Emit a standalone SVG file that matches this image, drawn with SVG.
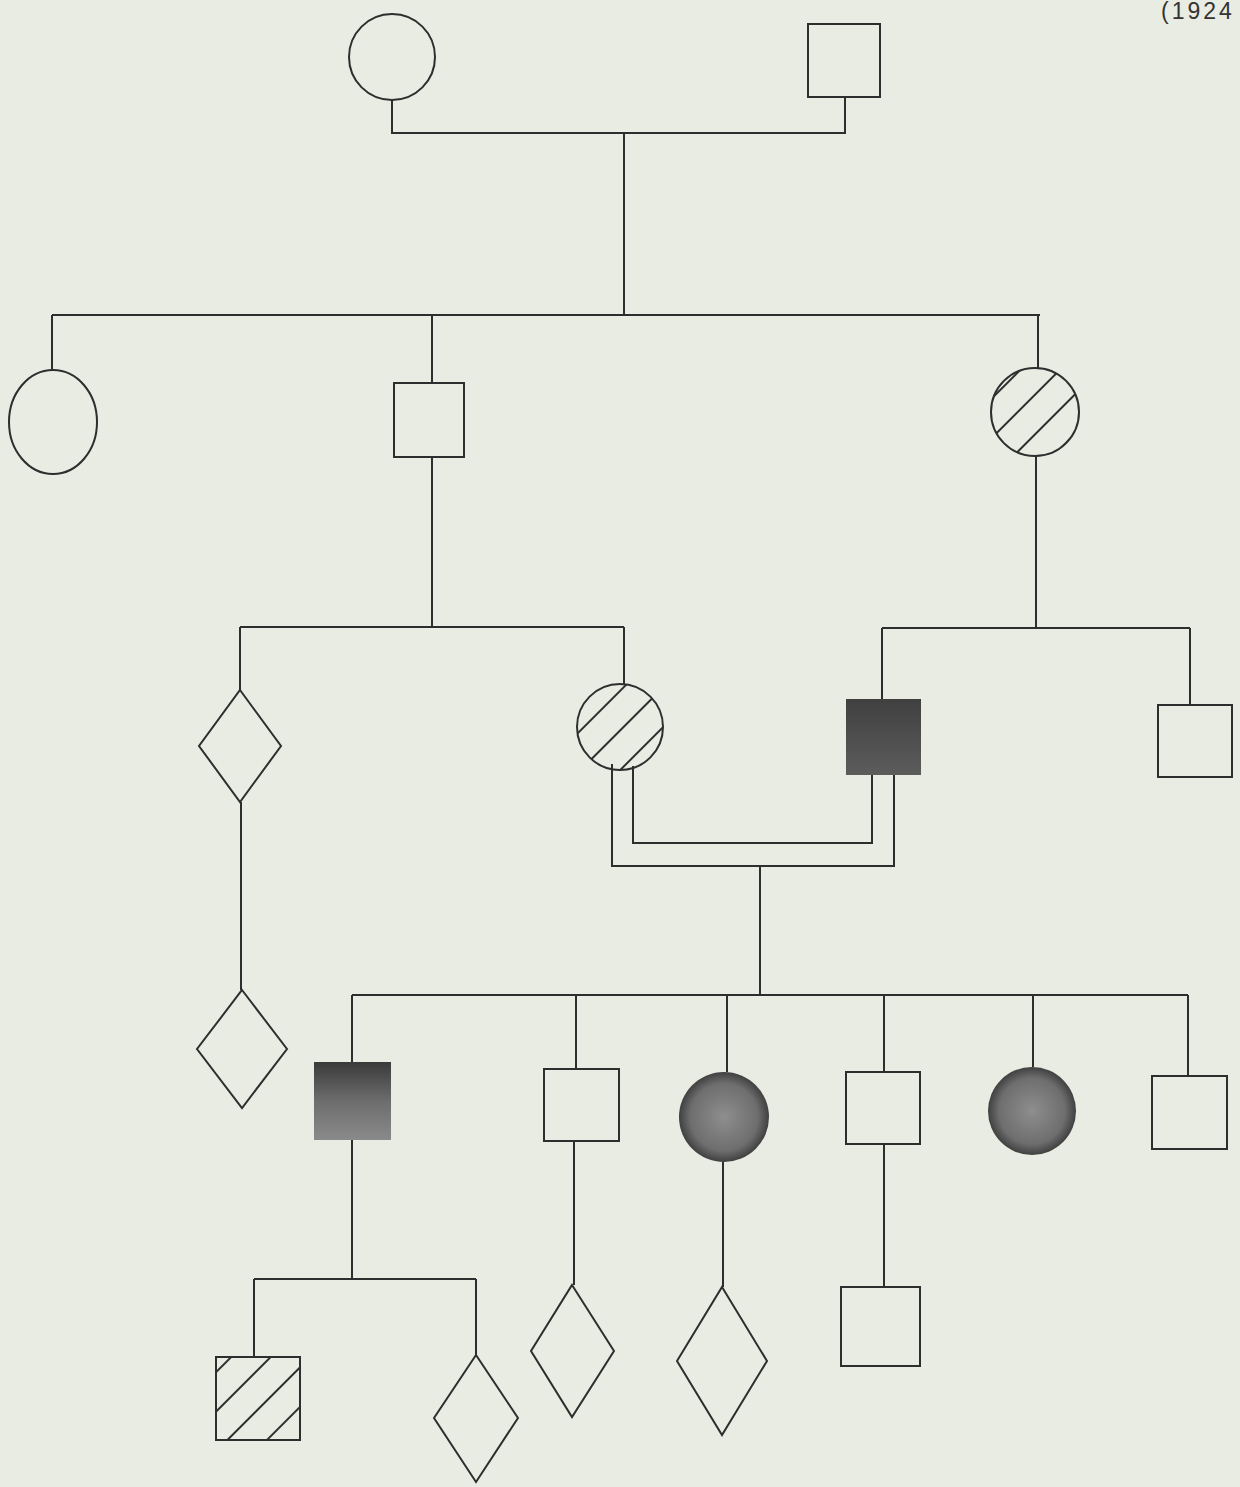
<svg xmlns="http://www.w3.org/2000/svg" width="1240" height="1487" viewBox="0 0 1240 1487">
<defs>
<style>
.s{fill:none;stroke:#2e2e2e;stroke-width:2}
.n{fill:none;stroke:#2e2e2e;stroke-width:2}
.h{fill:url(#hatch);stroke:#2e2e2e;stroke-width:2}
.t{font-family:"Liberation Sans",Arial,sans-serif;font-size:23px;letter-spacing:3px;fill:#333}
</style>
<pattern id="hatch" width="28" height="28" patternUnits="userSpaceOnUse" patternTransform="rotate(45)">
<line x1="3" y1="0" x2="3" y2="28" stroke="#2e2e2e" stroke-width="2"/>
</pattern>
<linearGradient id="fsq1" x1="0" y1="0" x2="0" y2="1">
<stop offset="0" stop-color="#404040"/><stop offset="1" stop-color="#5c5c5c"/>
</linearGradient>
<linearGradient id="fsq2" x1="0" y1="0" x2="0" y2="1">
<stop offset="0" stop-color="#3a3a3a"/><stop offset="0.5" stop-color="#6d6d6d"/><stop offset="1" stop-color="#8a8a8a"/>
</linearGradient>
<radialGradient id="fci" cx="0.5" cy="0.5" r="0.5">
<stop offset="0" stop-color="#8e8e8e"/><stop offset="0.75" stop-color="#6e6e6e"/><stop offset="1" stop-color="#404040"/>
</radialGradient>
</defs>
<rect width="1240" height="1487" fill="#e9ece3"/>
<text class="t" x="1161" y="19">(1924</text>

<g id="connectors" class="n">
<polyline points="392,100 392,133 845,133 845,97"/>
<line x1="624" y1="133" x2="624" y2="315"/>
<line x1="52" y1="315" x2="1040" y2="315"/>
<line x1="52" y1="315" x2="52" y2="370"/>
<line x1="432" y1="315" x2="432" y2="383"/>
<line x1="1038" y1="315" x2="1038" y2="368"/>
<line x1="432" y1="457" x2="432" y2="627"/>
<line x1="240" y1="627" x2="624" y2="627"/>
<line x1="240" y1="627" x2="240" y2="690"/>
<line x1="624" y1="627" x2="624" y2="685"/>
<line x1="241" y1="802" x2="241" y2="990"/>
<line x1="1036" y1="455" x2="1036" y2="628"/>
<line x1="882" y1="628" x2="1190" y2="628"/>
<line x1="882" y1="628" x2="882" y2="699"/>
<line x1="1190" y1="628" x2="1190" y2="705"/>
<polyline points="633,766 633,843 872,843 872,775"/>
<polyline points="612,764 612,866 894,866 894,775"/>
<line x1="760" y1="866" x2="760" y2="995"/>
<line x1="352" y1="995" x2="1188" y2="995"/>
<line x1="352" y1="995" x2="352" y2="1062"/>
<line x1="576" y1="995" x2="576" y2="1069"/>
<line x1="727" y1="995" x2="727" y2="1072"/>
<line x1="884" y1="995" x2="884" y2="1072"/>
<line x1="1033" y1="995" x2="1033" y2="1067"/>
<line x1="1188" y1="995" x2="1188" y2="1076"/>
<line x1="352" y1="1140" x2="352" y2="1279"/>
<line x1="254" y1="1279" x2="476" y2="1279"/>
<line x1="254" y1="1279" x2="254" y2="1357"/>
<line x1="476" y1="1279" x2="476" y2="1355"/>
<line x1="574" y1="1141" x2="574" y2="1285"/>
<line x1="723" y1="1162" x2="723" y2="1287"/>
<line x1="884" y1="1144" x2="884" y2="1287"/>
</g>

<g id="g1-mother"><ellipse class="s" cx="392" cy="57" rx="43" ry="43"/></g>
<g id="g1-father"><rect class="s" x="808" y="24" width="72" height="73"/></g>

<g id="g2-daughter1"><ellipse class="s" cx="53" cy="422" rx="44" ry="52"/></g>
<g id="g2-son"><rect class="s" x="394" y="383" width="70" height="74"/></g>
<g id="g2-daughter2"><circle class="h" cx="1035" cy="412" r="44"/></g>

<g id="g3-diamond"><polygon class="s" points="240,690 281,746 240,802 199,746"/></g>
<g id="g3-daughter"><circle class="h" cx="620" cy="727" r="43"/></g>
<g id="g3-son-affected"><rect x="846" y="699" width="75" height="76" fill="url(#fsq1)"/></g>
<g id="g3-son"><rect class="s" x="1158" y="705" width="74" height="72"/></g>

<g id="g4-diamond-a"><polygon class="s" points="242,990 287,1049 242,1108 197,1049"/></g>
<g id="g4-son-affected"><rect x="314" y="1062" width="77" height="78" fill="url(#fsq2)"/></g>
<g id="g4-son2"><rect class="s" x="544" y="1069" width="75" height="72"/></g>
<g id="g4-daughter-affected1"><ellipse cx="724" cy="1117" rx="45" ry="45" fill="url(#fci)"/></g>
<g id="g4-son3"><rect class="s" x="846" y="1072" width="74" height="72"/></g>
<g id="g4-daughter-affected2"><ellipse cx="1032" cy="1111" rx="44" ry="44" fill="url(#fci)"/></g>
<g id="g4-son4"><rect class="s" x="1152" y="1076" width="75" height="73"/></g>

<g id="g5-son-hatched"><rect class="h" x="216" y="1357" width="84" height="83"/></g>
<g id="g5-diamond-b"><polygon class="s" points="476,1355 518,1418 476,1482 434,1418"/></g>
<g id="g5-diamond-c"><polygon class="s" points="572,1285 614,1351 572,1417 531,1351"/></g>
<g id="g5-diamond-d"><polygon class="s" points="722,1287 767,1361 722,1435 677,1361"/></g>
<g id="g5-son"><rect class="s" x="841" y="1287" width="79" height="79"/></g>
</svg>
